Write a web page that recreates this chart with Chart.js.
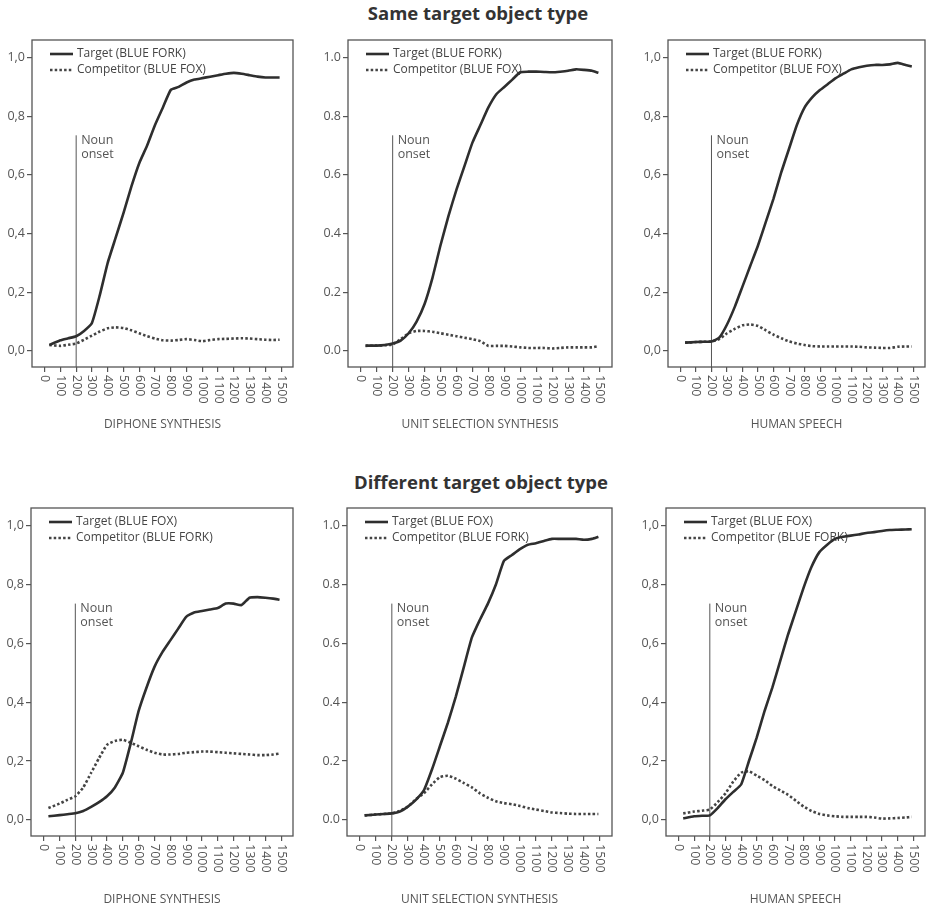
<!DOCTYPE html>
<html>
<head>
<meta charset="utf-8">
<title>Fixation proportions</title>
<script src="https://cdn.jsdelivr.net/npm/chart.js@4"></script>
<style>
    body {
        margin: 0;
        background: #fff;
        width: 926px;
        height: 909px;
        position: relative;
        overflow: hidden;
        font-family: "Open Sans", sans-serif;
    }
    .row-title {
        position: absolute;
        width: 350px;
        text-align: center;
        font-weight: 700;
        font-size: 18.5px;
        line-height: 22px;
        color: #333;
    }
    canvas {
        position: absolute;
    }
</style>
</head>
<body>
<div class="row-title" style="left:303px; top:2px">Same target object type</div>
<div class="row-title" style="left:306px; top:471px">Different target object type</div>

<canvas id="diphoneSame" width="300" height="410" style="left:0; top:30px"></canvas>
<canvas id="unitSame" width="315" height="410" style="left:305px; top:30px"></canvas>
<canvas id="humanSame" width="301" height="410" style="left:625px; top:30px"></canvas>
<canvas id="diphoneDiff" width="300" height="411" style="left:0; top:498px"></canvas>
<canvas id="unitDiff" width="315" height="411" style="left:305px; top:498px"></canvas>
<canvas id="humanDiff" width="301" height="411" style="left:625px; top:498px"></canvas>

<script>
// time points (ms after sentence onset)
const timesMs = [30, 100, 150, 200, 250, 300, 350, 400, 450, 500, 550, 600, 650, 700, 750,
    800, 850, 900, 950, 1000, 1050, 1100, 1150, 1200, 1250, 1300, 1350, 1400, 1450, 1490];

// same target object type
const diphoneSameTarget = [0.020, 0.036, 0.043, 0.050, 0.068, 0.095, 0.19, 0.30, 0.385, 0.47, 0.56, 0.64, 0.70, 0.77, 0.83,
    0.89, 0.90, 0.915, 0.925, 0.93, 0.935, 0.94, 0.945, 0.948, 0.945, 0.94, 0.935, 0.932, 0.932, 0.932];
const diphoneSameCompetitor = [0.020, 0.017, 0.021, 0.025, 0.038, 0.052, 0.066, 0.077, 0.080, 0.078, 0.070, 0.060, 0.050, 0.042, 0.036,
    0.035, 0.037, 0.040, 0.037, 0.033, 0.037, 0.040, 0.041, 0.042, 0.043, 0.042, 0.040, 0.038, 0.037, 0.038];
const unitSameTarget = [0.018, 0.018, 0.020, 0.025, 0.035, 0.060, 0.10, 0.16, 0.25, 0.36, 0.46, 0.55, 0.63, 0.71, 0.77,
    0.83, 0.875, 0.90, 0.925, 0.950, 0.952, 0.952, 0.951, 0.950, 0.952, 0.955, 0.960, 0.958, 0.955, 0.948];
const unitSameCompetitor = [0.017, 0.018, 0.019, 0.022, 0.040, 0.060, 0.068, 0.068, 0.065, 0.060, 0.055, 0.050, 0.045, 0.040, 0.033,
    0.017, 0.017, 0.017, 0.015, 0.012, 0.010, 0.010, 0.010, 0.008, 0.010, 0.012, 0.012, 0.012, 0.012, 0.016];
const humanSameTarget = [0.028, 0.030, 0.031, 0.032, 0.045, 0.09, 0.15, 0.22, 0.29, 0.36, 0.44, 0.52, 0.61, 0.69, 0.77,
    0.83, 0.865, 0.89, 0.91, 0.93, 0.945, 0.96, 0.967, 0.972, 0.975, 0.975, 0.977, 0.982, 0.975, 0.970];
const humanSameCompetitor = [0.028, 0.030, 0.031, 0.032, 0.040, 0.060, 0.075, 0.087, 0.090, 0.085, 0.070, 0.055, 0.043, 0.032, 0.025,
    0.020, 0.016, 0.015, 0.015, 0.015, 0.015, 0.015, 0.014, 0.012, 0.011, 0.010, 0.010, 0.014, 0.015, 0.015];

// different target object type
const diphoneDiffTarget = [0.012, 0.016, 0.019, 0.022, 0.030, 0.044, 0.060, 0.080, 0.11, 0.16, 0.26, 0.37, 0.45, 0.52, 0.57,
    0.61, 0.65, 0.69, 0.705, 0.71, 0.715, 0.72, 0.735, 0.735, 0.73, 0.755, 0.757, 0.755, 0.752, 0.748];
const diphoneDiffCompetitor = [0.040, 0.055, 0.068, 0.080, 0.11, 0.16, 0.21, 0.255, 0.268, 0.272, 0.262, 0.25, 0.238, 0.228, 0.222,
    0.222, 0.224, 0.228, 0.23, 0.232, 0.232, 0.23, 0.228, 0.226, 0.224, 0.222, 0.22, 0.22, 0.222, 0.225];
const unitDiffTarget = [0.015, 0.018, 0.020, 0.022, 0.028, 0.045, 0.068, 0.10, 0.17, 0.25, 0.33, 0.42, 0.52, 0.62, 0.68,
    0.735, 0.80, 0.88, 0.90, 0.92, 0.935, 0.94, 0.948, 0.955, 0.955, 0.955, 0.955, 0.952, 0.955, 0.962];
const unitDiffCompetitor = [0.015, 0.018, 0.020, 0.022, 0.030, 0.045, 0.070, 0.090, 0.12, 0.145, 0.15, 0.14, 0.125, 0.11, 0.09,
    0.075, 0.063, 0.057, 0.053, 0.047, 0.040, 0.035, 0.030, 0.025, 0.023, 0.021, 0.020, 0.020, 0.020, 0.020];
const humanDiffTarget = [0.005, 0.012, 0.014, 0.015, 0.04, 0.07, 0.095, 0.12, 0.20, 0.28, 0.37, 0.45, 0.54, 0.63, 0.71,
    0.79, 0.86, 0.91, 0.935, 0.955, 0.962, 0.966, 0.97, 0.975, 0.978, 0.982, 0.985, 0.986, 0.987, 0.988];
const humanDiffCompetitor = [0.022, 0.028, 0.031, 0.035, 0.06, 0.09, 0.13, 0.16, 0.165, 0.15, 0.135, 0.115, 0.10, 0.085, 0.065,
    0.045, 0.03, 0.02, 0.015, 0.012, 0.01, 0.01, 0.01, 0.01, 0.008, 0.004, 0.005, 0.006, 0.008, 0.01];

// axes
const xTickValues = [0, 100, 200, 300, 400, 500, 600, 700, 800, 900, 1000, 1100, 1200, 1300, 1400, 1500];
const xTickLabels = ['0', '100', '200', '300', '400', '500', '600', '700', '800', '900', '1000', '1100', '1200', '1300', '1400', '1500'];
const yTickValues = [0, 0.2, 0.4, 0.6, 0.8, 1.0];
const yTickLabelsComma = ['0,0', '0,2', '0,4', '0,6', '0,8', '1,0'];
const yTickLabelsDot = ['0.0', '0.2', '0.4', '0.6', '0.8', '1.0'];
const nounOnsetMs = 200;
const nounLineTop = 0.735;

const axisColor = '#555';
const textColor = '#555';
const lineColor = '#2e2e2e';
const fontFamily = '"Open Sans", sans-serif';

Chart.defaults.font.family = fontFamily;

function toPoints(values) {
    return values.map((v, i) => ({ x: timesMs[i], y: v }));
}

// box, rotated x labels, noun onset text and the legend
const panelDecor = {
    id: 'panelDecor',
    beforeDatasetsDraw(chart) {
        const { ctx, chartArea: a } = chart;
        ctx.save();
        ctx.font = '12px ' + fontFamily;
        ctx.textBaseline = 'middle';
        ctx.textAlign = 'left';
        chart.data.datasets.filter(d => d.label).forEach((d, i) => {
            const ly = a.top + 14 + i * 16;
            ctx.beginPath();
            ctx.setLineDash(d.borderDash || []);
            ctx.lineWidth = d.borderWidth;
            ctx.strokeStyle = d.borderColor;
            ctx.moveTo(a.left + 18, ly);
            ctx.lineTo(a.left + 41, ly);
            ctx.stroke();
            ctx.fillStyle = '#444';
            ctx.fillText(d.label, a.left + 45, ly);
        });
        ctx.restore();
    },
    afterDraw(chart) {
        const { ctx, chartArea: a, scales: { x, y } } = chart;
        ctx.save();
        ctx.strokeStyle = axisColor;
        ctx.lineWidth = 1.3;
        ctx.strokeRect(a.left, a.top, a.width, a.height);

        ctx.fillStyle = textColor;
        ctx.font = '12.5px ' + fontFamily;
        ctx.textAlign = 'left';
        ctx.textBaseline = 'middle';
        x.ticks.forEach((t, i) => {
            ctx.save();
            ctx.translate(x.getPixelForValue(t.value), a.bottom + 8);
            ctx.rotate(Math.PI / 2);
            ctx.fillText(xTickLabels[i], 0, 0);
            ctx.restore();
        });

        const nx = x.getPixelForValue(nounOnsetMs) + 5;
        const ny = y.getPixelForValue(nounLineTop);
        ctx.textBaseline = 'top';
        ctx.fillText('Noun', nx, ny - 1);
        ctx.fillText('onset', nx, ny + 13);
        ctx.restore();
    }
};

function makePanel(id, cfg) {
    const ctx = document.getElementById(id).getContext('2d');
    return new Chart(ctx, {
        type: 'line',
        data: {
            datasets: [{
                label: cfg.targetLabel,
                data: toPoints(cfg.target),
                borderColor: lineColor,
                borderWidth: 2.6,
                pointRadius: 0,
                tension: 0.15
            }, {
                label: cfg.competitorLabel,
                data: toPoints(cfg.competitor),
                borderColor: '#444',
                borderWidth: 2.6,
                borderDash: [2.5, 2.2],
                pointRadius: 0,
                tension: 0.15
            }, {
                label: '',
                data: [{ x: nounOnsetMs, y: -0.06 }, { x: nounOnsetMs, y: nounLineTop }],
                borderColor: axisColor,
                borderWidth: 1,
                pointRadius: 0
            }]
        },
        options: {
            responsive: false,
            animation: false,
            layout: {
                padding: { top: 10, left: 0, right: cfg.padRight, bottom: 0 }
            },
            plugins: {
                legend: { display: false },
                tooltip: { enabled: false }
            },
            scales: {
                x: {
                    type: 'linear',
                    min: -80,
                    max: 1575,
                    afterBuildTicks: s => { s.ticks = xTickValues.map(v => ({ value: v })); },
                    afterFit: s => { s.height = 73; },
                    ticks: { display: false },
                    grid: {
                        drawOnChartArea: false,
                        drawTicks: true,
                        tickLength: 5,
                        color: axisColor,
                        lineWidth: 1.2
                    },
                    border: { display: false },
                    title: {
                        display: true,
                        text: cfg.axisTitle,
                        color: textColor,
                        font: { size: 12 },
                        padding: { top: 0, bottom: cfg.titlePad }
                    }
                },
                y: {
                    type: 'linear',
                    min: -0.055,
                    max: 1.06,
                    afterBuildTicks: s => { s.ticks = yTickValues.map(v => ({ value: v })); },
                    afterFit: s => { s.width = cfg.yWidth; },
                    ticks: {
                        color: textColor,
                        padding: 2,
                        font: { size: 12.5 },
                        callback: (v, i) => cfg.yLabels[i]
                    },
                    grid: {
                        drawOnChartArea: false,
                        drawTicks: true,
                        tickLength: 5,
                        color: axisColor,
                        lineWidth: 1.2
                    },
                    border: { display: false }
                }
            }
        },
        plugins: [panelDecor]
    });
}

makePanel('diphoneSame', {
    target: diphoneSameTarget, competitor: diphoneSameCompetitor,
    targetLabel: 'Target (BLUE FORK)', competitorLabel: 'Competitor (BLUE FOX)',
    axisTitle: 'DIPHONE SYNTHESIS', yLabels: yTickLabelsComma,
    yWidth: 32, padRight: 7, titlePad: 8
});
makePanel('unitSame', {
    target: unitSameTarget, competitor: unitSameCompetitor,
    targetLabel: 'Target (BLUE FORK)', competitorLabel: 'Competitor (BLUE FOX)',
    axisTitle: 'UNIT SELECTION SYNTHESIS', yLabels: yTickLabelsDot,
    yWidth: 43, padRight: 8, titlePad: 8
});
makePanel('humanSame', {
    target: humanSameTarget, competitor: humanSameCompetitor,
    targetLabel: 'Target (BLUE FORK)', competitorLabel: 'Competitor (BLUE FOX)',
    axisTitle: 'HUMAN SPEECH', yLabels: yTickLabelsComma,
    yWidth: 43, padRight: 1, titlePad: 8
});
makePanel('diphoneDiff', {
    target: diphoneDiffTarget, competitor: diphoneDiffCompetitor,
    targetLabel: 'Target (BLUE FOX)', competitorLabel: 'Competitor (BLUE FORK)',
    axisTitle: 'DIPHONE SYNTHESIS', yLabels: yTickLabelsComma,
    yWidth: 31, padRight: 7, titlePad: 2
});
makePanel('unitDiff', {
    target: unitDiffTarget, competitor: unitDiffCompetitor,
    targetLabel: 'Target (BLUE FOX)', competitorLabel: 'Competitor (BLUE FORK)',
    axisTitle: 'UNIT SELECTION SYNTHESIS', yLabels: yTickLabelsDot,
    yWidth: 42, padRight: 8, titlePad: 2
});
makePanel('humanDiff', {
    target: humanDiffTarget, competitor: humanDiffCompetitor,
    targetLabel: 'Target (BLUE FOX)', competitorLabel: 'Competitor (BLUE FORK)',
    axisTitle: 'HUMAN SPEECH', yLabels: yTickLabelsComma,
    yWidth: 41, padRight: 1, titlePad: 2
});
</script>
</body>
</html>
